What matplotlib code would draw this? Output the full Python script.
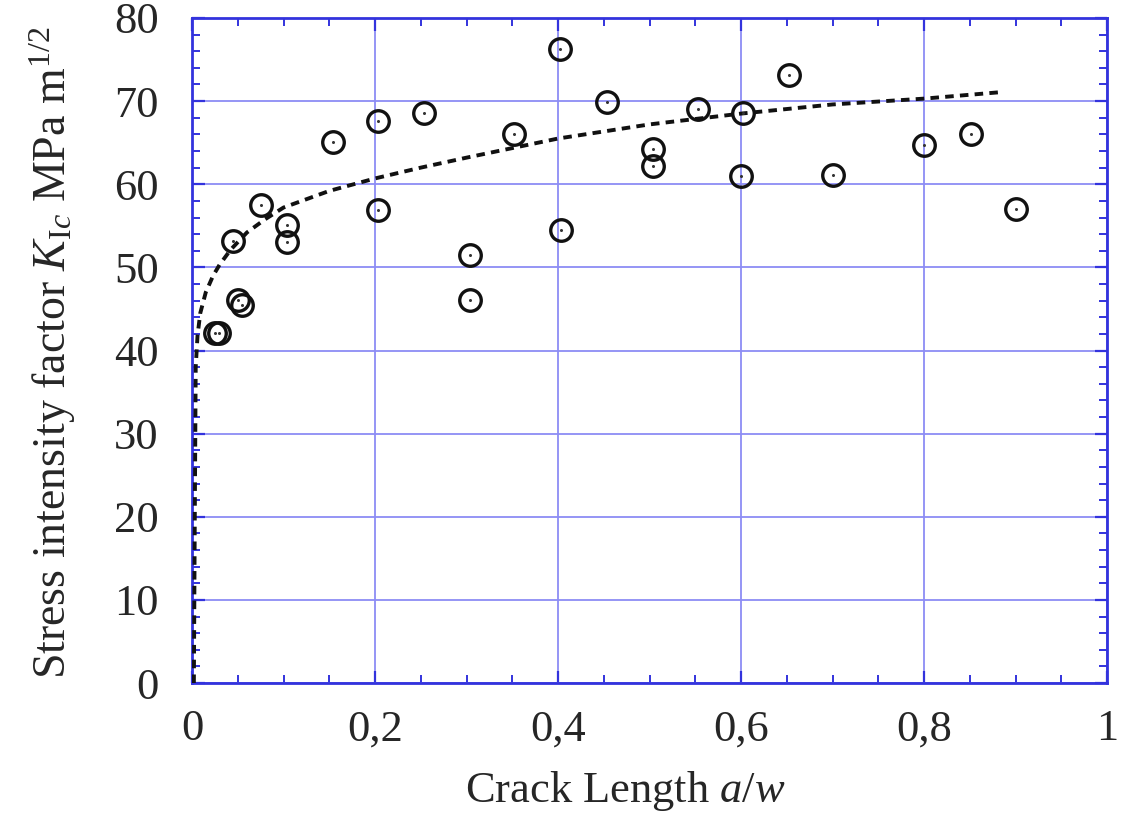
import matplotlib
matplotlib.use("Agg")
import matplotlib.pyplot as plt
from matplotlib.ticker import MultipleLocator, FuncFormatter

# Measured data points (a/w, K_Ic)
crack_length = [0.025, 0.030, 0.050, 0.055, 0.045, 0.075, 0.104, 0.104, 0.154,
                0.203, 0.203, 0.254, 0.304, 0.304, 0.352, 0.402, 0.403, 0.454,
                0.504, 0.504, 0.553, 0.602, 0.600, 0.652, 0.700, 0.800, 0.851, 0.900]
k_ic = [42.1, 42.1, 46.1, 45.5, 53.2, 57.5, 55.1, 53.1, 65.1,
        67.6, 56.9, 68.6, 51.5, 46.1, 66.1, 76.3, 54.5, 69.9,
        64.3, 62.2, 69.1, 68.6, 61.0, 73.2, 61.1, 64.7, 66.1, 57.0]

# Fitted trend curve
fit_x = [0.002, 0.003, 0.004, 0.006, 0.009, 0.015, 0.023, 0.030, 0.042, 0.060,
         0.080, 0.100, 0.150, 0.200, 0.250, 0.300, 0.400, 0.500, 0.600, 0.700,
         0.800, 0.886]
fit_y = [0.0, 20.0, 38.0, 41.8, 44.5, 47.0, 49.0, 50.3, 52.1, 54.2,
         55.8, 57.2, 59.2, 60.7, 62.0, 63.2, 65.5, 67.2, 68.5, 69.6,
         70.3, 71.1]

x_ticks = [0, 0.2, 0.4, 0.6, 0.8, 1]
y_ticks = [0, 10, 20, 30, 40, 50, 60, 70, 80]

plt.rcParams['font.family'] = ['Liberation Serif', 'DejaVu Serif']
plt.rcParams['mathtext.fontset'] = 'custom'
plt.rcParams['mathtext.rm'] = 'Liberation Serif'
plt.rcParams['mathtext.it'] = 'Liberation Serif:italic'

fig = plt.figure(figsize=(11.31, 8.18), dpi=100)
ax = fig.add_axes([0.1698, 0.165, 0.809, 0.813])

axis_blue = '#3333dd'
grid_blue = '#8c8cf5'
text_col = '#262626'

ax.plot(fit_x, fit_y, color='#111111', lw=2.8, ls=(0, (2.2, 1.6)), zorder=3)
ax.plot(crack_length, k_ic, ls='none', marker='o', ms=15.5, mfc='none',
        mec='#111111', mew=2.4, zorder=4)
ax.plot(crack_length, k_ic, ls='none', marker='o', ms=2.2, mfc='#333333',
        mec='none', zorder=5)

ax.set_xlim(0, 1)
ax.set_ylim(0, 80)
ax.set_xticks(x_ticks)
ax.set_yticks(y_ticks)
ax.xaxis.set_minor_locator(MultipleLocator(0.05))
ax.yaxis.set_minor_locator(MultipleLocator(2))

def fmt_x(v, pos):
    if abs(v) < 1e-9:
        return '0'
    if abs(v - 1) < 1e-9:
        return '1'
    return ('%.1f' % v).replace('.', ',')

ax.xaxis.set_major_formatter(FuncFormatter(fmt_x))

ax.grid(True, which='major', color=grid_blue, lw=1.3)
ax.set_axisbelow(True)
for s in ax.spines.values():
    s.set_color(axis_blue)
    s.set_linewidth(2.0)

ax.tick_params(which='both', direction='in', top=True, right=True,
               color=axis_blue, labelsize=32, labelcolor=text_col)
ax.tick_params(which='major', length=9, width=1.6)
ax.tick_params(axis='y', which='major', pad=24)
ax.tick_params(axis='x', which='major', pad=19)
ax.tick_params(which='minor', length=6, width=1.4)

ax.set_xlabel(r'Crack Length $a/w$', fontsize=32, color=text_col, labelpad=14)
ax.set_ylabel(r'Stress intensity factor $K_{\mathrm{I}c}$ MPa m$^{1/2}$',
              fontsize=33, color=text_col, labelpad=26)
ax.xaxis.label.set_x(0.473)
ax.yaxis.label.set_y(0.496)

fig.savefig('out.png', dpi=100)
